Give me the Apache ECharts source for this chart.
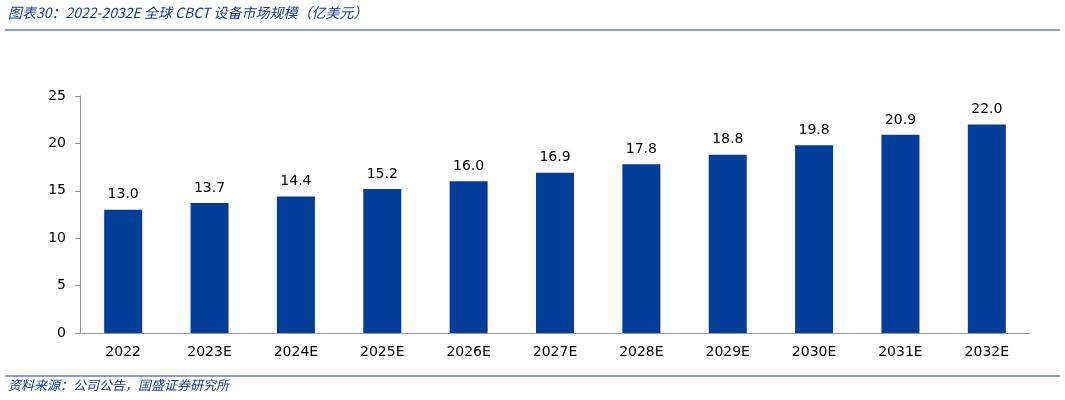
<!DOCTYPE html>
<html><head><meta charset="utf-8">
<script src="https://cdn.jsdelivr.net/npm/echarts@6/dist/echarts.min.js"></script>
<style>body{margin:0;background:#fff}#c{width:1065px;height:400px}</style>
</head><body><div id="c"></div>
<script>
const categories=['2022','2023E','2024E','2025E','2026E','2027E','2028E','2029E','2030E','2031E','2032E'];
const values=[13.0,13.7,14.4,15.2,16.0,16.9,17.8,18.8,19.8,20.9,22.0];
const yTicks=[0,5,10,15,20,25];
const chart=echarts.init(document.getElementById('c'));
chart.setOption({
  animation:false,
  graphic:[
    {type:'text',left:8,top:6,style:{text:'图表30：2022-2032E 全球 CBCT 设备市场规模（亿美元）',font:'italic 14px "Noto Sans CJK SC", Verdana, sans-serif',fill:'#1a3a8a'}},
    {type:'line',shape:{x1:5,y1:30,x2:1060,y2:30},style:{stroke:'#1a3f95',lineWidth:1}},
    {type:'line',shape:{x1:5,y1:376,x2:1060,y2:376},style:{stroke:'#1a3f95',lineWidth:1}},
    {type:'text',left:8,top:379,style:{text:'资料来源：公司公告，国盛证券研究所',font:'italic 13px "Noto Sans CJK SC", sans-serif',fill:'#1a3a8a'}}
  ],
  grid:{left:80,right:35,top:96,bottom:67},
  xAxis:{type:'category',data:categories,axisTick:{show:false},axisLine:{lineStyle:{color:'#999'}},
    axisLabel:{color:'#000',fontSize:14,margin:12,fontFamily:'Verdana, DejaVu Sans, sans-serif'}},
  yAxis:{type:'value',min:0,max:yTicks[yTicks.length-1],interval:5,splitLine:{show:false},
    axisLine:{show:true,lineStyle:{color:'#999'}},axisTick:{show:true,lineStyle:{color:'#999'}},
    axisLabel:{color:'#000',fontSize:14,margin:14,fontFamily:'Verdana, DejaVu Sans, sans-serif'}},
  series:[{type:'bar',data:values,barWidth:'44%',itemStyle:{color:'#003e97'},
    label:{show:true,position:'top',distance:8,color:'#000',fontSize:14,fontFamily:'Verdana, DejaVu Sans, sans-serif',formatter:p=>p.value.toFixed(1)}}]
});
</script></body></html>
